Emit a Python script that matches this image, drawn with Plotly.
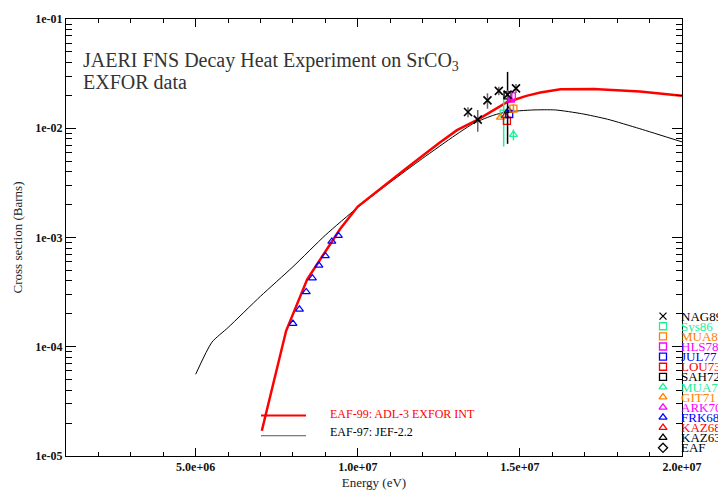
import plotly.graph_objects as go

# ---------------- data ----------------
eaf99_x = [7.04e6, 7.79e6, 8.44e6, 9.46e6, 1.0e7, 1.075e7, 1.1e7, 1.15e7, 1.2e7, 1.25e7, 1.306e7, 1.37e7, 1.46e7, 1.52e7, 1.563e7, 1.625e7, 1.727e7, 1.87e7, 2.0e7]
eaf99_y = [1.7e-5, 1.4e-4, 4.15e-4, 1.2e-3, 1.92e-3, 2.9e-3, 3.3e-3, 4.3e-3, 5.6e-3, 7.3e-3, 9.6e-3, 1.2e-2, 1.73e-2, 1.98e-2, 2.12e-2, 2.28e-2, 2.29e-2, 2.17e-2, 1.98e-2]

eaf97_x = [5.0e6, 5.5e6, 6.0e6, 7.0e6, 8.0e6, 9.0e6, 1.0e7, 1.1e7, 1.2e7, 1.3e7, 1.36e7, 1.42e7, 1.46e7, 1.54e7, 1.61e7, 1.69e7, 1.77e7, 1.87e7, 2.0e7]
eaf97_y = [5.6e-5, 1.1e-4, 1.5e-4, 2.9e-4, 5.4e-4, 1.05e-3, 1.89e-3, 3.2e-3, 5.3e-3, 8.6e-3, 1.12e-2, 1.32e-2, 1.41e-2, 1.47e-2, 1.47e-2, 1.36e-2, 1.21e-2, 9.9e-3, 7.5e-3]

nag89_x = [1.34e7, 1.37e7, 1.40e7, 1.435e7, 1.462e7, 1.488e7]
nag89_y = [1.41e-2, 1.2e-2, 1.8e-2, 2.2e-2, 2.03e-2, 2.32e-2]
nag89_e = [1.5e-3, 2.7e-3, 2.9e-3, 2.0e-3, 2.0e-3, 2.2e-3]

frk68_x = [8.0e6, 8.2e6, 8.41e6, 8.6e6, 8.8e6, 9.0e6, 9.2e6, 9.4e6]
frk68_y = [1.63e-4, 2.2e-4, 3.18e-4, 4.24e-4, 5.56e-4, 6.78e-4, 9.2e-4, 1.04e-3]

# other EXFOR points near 14.5 MeV: (x, y, error)
sys86 = (1.450e7, 1.36e-2, 6.8e-3)
mua8 = (1.480e7, 1.51e-2, 1.5e-3)
hls78 = (1.475e7, 1.96e-2, 2.0e-3)
jul77 = (1.467e7, 1.35e-2, 0.0)
lou73 = (1.460e7, 1.17e-2, 0.0)
sah72 = (1.462e7, 2.00e-2, 1.28e-2)
mua7 = (1.480e7, 8.75e-3, 1.0e-3)
git71 = (1.440e7, 1.26e-2, 0.0)
ark70 = (1.472e7, 1.80e-2, 0.0)
kaz68 = (1.455e7, 1.30e-2, 0.0)
kaz63 = (1.465e7, 1.45e-2, 0.0)

legend_names = ["NAG89", "Sys86", "MUA8", "HLS78", "JUL77", "LOU73", "SAH72",
                "MUA7", "GIT71", "ARK70", "FRK68", "KAZ68", "KAZ63", "EAF"]
legend_colors = ["black", "#22EE99", "#FF8000", "#FF00FF", "#0000FF", "#FF0000", "black",
                 "#22EE99", "#FF8000", "#FF00FF", "#0000FF", "#FF0000", "black", "black"]
legend_symbols = ["x-thin-open", "square-open", "square-open", "square-open", "square-open", "square-open", "square-open",
                  "triangle-up-open", "triangle-up-open", "triangle-up-open", "triangle-up-open", "triangle-up-open",
                  "triangle-up-open", "diamond-open"]

y_ticks = [1e-5, 1e-4, 1e-3, 1e-2, 1e-1]
y_ticktext = ["1e-05", "1e-04", "1e-03", "1e-02", "1e-01"]
x_ticks = [5e6, 1e7, 1.5e7, 2e7]
x_ticktext = ["5.0e+06", "1.0e+07", "1.5e+07", "2.0e+07"]

FONT = "Liberation Serif"

fig = go.Figure()

fig.add_trace(go.Scatter(x=eaf97_x, y=eaf97_y, mode="lines", line_shape="spline",
                         line=dict(color="black", width=1, smoothing=0.6), showlegend=False))
fig.add_trace(go.Scatter(x=eaf99_x, y=eaf99_y, mode="lines",
                         line=dict(color="#FF0000", width=2.5), showlegend=False))

def pt(p, sym, color, errcolor=None, size=7):
    x, y, e = p
    kw = {}
    if e > 0:
        kw["error_y"] = dict(type="data", array=[e], color=errcolor or color, thickness=1.5, width=0)
    fig.add_trace(go.Scatter(x=[x], y=[y], mode="markers",
                             marker=dict(symbol=sym, color=color, size=size, line=dict(width=1.3, color=color)),
                             showlegend=False, **kw))

pt(sys86, "square-open", "#22EE99")
pt(git71, "triangle-up-open", "#FF8000")
pt(kaz68, "triangle-up-open", "#FF0000")
pt(kaz63, "triangle-up-open", "black")
pt(lou73, "square-open", "#FF0000")
pt(jul77, "square-open", "#0000FF")
pt(sah72, "square-open", "black")
pt(ark70, "triangle-up-open", "#FF00FF")
pt(hls78, "square-open", "#FF00FF")
pt(mua8, "square-open", "#FF8000")
pt(mua7, "triangle-up-open", "#22EE99")

fig.add_trace(go.Scatter(x=frk68_x, y=frk68_y, mode="markers",
                         marker=dict(symbol="triangle-up-open", color="#0000FF", size=7, line=dict(width=1.2, color="#0000FF")),
                         showlegend=False))

fig.add_trace(go.Scatter(x=nag89_x, y=nag89_y, mode="markers",
                         error_y=dict(type="data", array=nag89_e, color="#666666", thickness=1.5, width=0),
                         marker=dict(symbol="x-thin-open", color="black", size=8, line=dict(width=1.6, color="black")),
                         showlegend=False))

# right-hand legend (overlay axes in pixel space)
leg_rows = list(range(len(legend_names)))
fig.add_trace(go.Scatter(
    x=[663] * len(leg_rows), y=[325 + 10.5 * i for i in leg_rows],
    mode="markers", xaxis="x2", yaxis="y2", cliponaxis=False,
    marker=dict(symbol=legend_symbols, color=legend_colors, size=7,
                line=dict(width=1.3, color=legend_colors)),
    showlegend=False, hoverinfo="skip"))

annotations = []
for i, (n, c) in enumerate(zip(legend_names, legend_colors)):
    annotations.append(dict(x=679, y=325 + 10.5 * i, xref="x2", yref="y2", text=n, showarrow=False,
                            xanchor="left", yanchor="middle", font=dict(family=FONT, size=13, color=c)))

annotations.append(dict(x=81, y=61, xref="x2", yref="y2", xanchor="left", yanchor="middle", showarrow=False,
                        text="JAERI FNS Decay Heat Experiment on SrCO<sub>3</sub>",
                        font=dict(family=FONT, size=20, color="#333333")))
annotations.append(dict(x=81, y=82, xref="x2", yref="y2", xanchor="left", yanchor="middle", showarrow=False,
                        text="EXFOR data", font=dict(family=FONT, size=20, color="#333333")))
annotations.append(dict(x=328, y=426, xref="x2", yref="y2", xanchor="left", yanchor="middle", showarrow=False,
                        text="EAF-99: ADL-3 EXFOR INT", font=dict(family=FONT, size=12, color="#FF0000")))
annotations.append(dict(x=328, y=445, xref="x2", yref="y2", xanchor="left", yanchor="middle", showarrow=False,
                        text="EAF-97: JEF-2.2", font=dict(family=FONT, size=12, color="black")))

shapes = [
    dict(type="line", xref="x2", yref="y2", x0=261, x1=306, y0=428, y1=428, line=dict(color="#FF0000", width=2)),
    dict(type="line", xref="x2", yref="y2", x0=261, x1=306, y0=449, y1=449, line=dict(color="#555555", width=1)),
]

y_minor = [m * 10.0 ** k for k in range(-5, -1) for m in range(2, 10)]
x_minor = [v * 1e6 for v in range(1, 21)]

TICKFONT = dict(family=FONT, size=12, color="#111111")

fig.update_layout(
    width=718, height=500,
    margin=dict(l=66, r=36, t=17, b=30),
    paper_bgcolor="white", plot_bgcolor="white",
    showlegend=False,
    font=dict(family=FONT, size=12, color="black"),
    annotations=annotations, shapes=shapes,
    xaxis=dict(range=[1e6, 2e7], showgrid=False, zeroline=False,
               showline=True, linecolor="black", linewidth=1, mirror="ticks",
               ticks="inside", ticklen=8, tickcolor="black",
               tickvals=x_ticks, ticktext=[f"<b>{t}</b>" for t in x_ticktext],
               tickfont=TICKFONT,
               minor=dict(tickvals=x_minor, ticks="inside", ticklen=4, tickcolor="black"),
               title=dict(text="Energy (eV)", font=dict(family=FONT, size=13, color="#222222"), standoff=4)),
    yaxis=dict(type="log", range=[-5, -1], showgrid=False, zeroline=False,
               showline=True, linecolor="black", linewidth=1, mirror="ticks",
               ticks="inside", ticklen=10, tickcolor="black",
               tickvals=y_ticks, ticktext=[f"<b>{t}</b>" for t in y_ticktext],
               tickfont=TICKFONT,
               minor=dict(tickvals=y_minor, ticks="inside", ticklen=6, tickcolor="black"),
               title=dict(text="Cross section (Barns)", font=dict(family=FONT, size=13, color="#222222"), standoff=9)),
    xaxis2=dict(range=[66, 682], overlaying="x", visible=False, fixedrange=True),
    yaxis2=dict(range=[470, 17], overlaying="y", visible=False, fixedrange=True),
)

fig.write_html("out.html", config={"displayModeBar": False},
               post_script="document.body.style.margin='0px';")
